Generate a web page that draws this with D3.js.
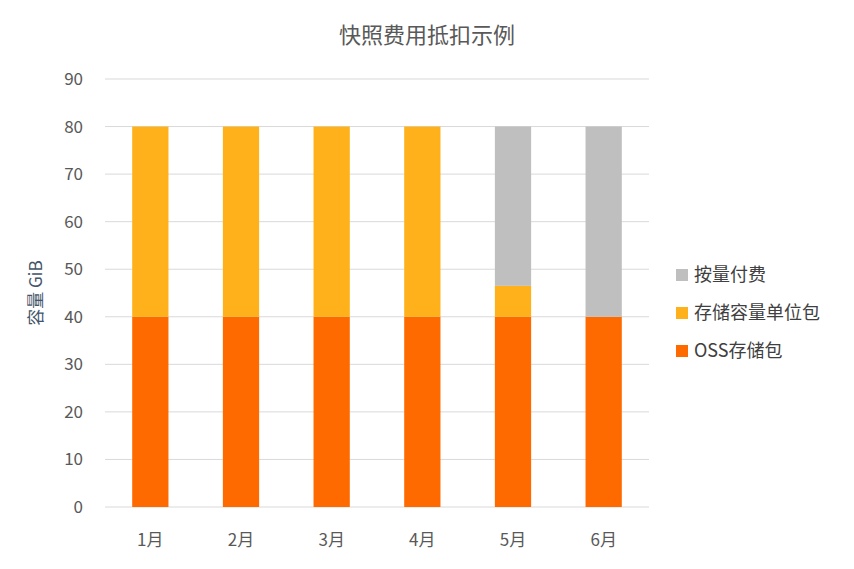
<!DOCTYPE html>
<html><head><meta charset="utf-8">
<script src="https://cdn.jsdelivr.net/npm/d3@7"></script>
<style>body{margin:0;background:#fff}text{font-family:"Noto Sans CJK SC","Noto Sans",sans-serif}</style>
</head><body><svg width="854" height="569"></svg>
<script>
// chart data
const months = ["1月", "2月", "3月", "4月", "5月", "6月"];
const ossPack = [40, 40, 40, 40, 40, 40];
const unitPack = [40, 40, 40, 40, 6.5, 0];
const payAsGo = [0, 0, 0, 0, 33.5, 40];
const seriesNames = ["OSS存储包", "存储容量单位包", "按量付费"];
const colors = ["#ff6a00", "#ffb11b", "#bfbfbf"];
const yTicks = [0, 10, 20, 30, 40, 50, 60, 70, 80, 90];

const svg = d3.select("svg");
const x = d3.scaleBand().domain(months).range([105, 649]).paddingInner(0.6).paddingOuter(0.3);
const y = d3.scaleLinear().domain([0, 90]).range([507, 79]);

// grid lines
svg.selectAll(".grid").data(yTicks).join("line")
    .attr("x1", 105).attr("x2", 649)
    .attr("y1", d => y(d)).attr("y2", d => y(d))
    .attr("stroke", "#d9d9d9");

const rows = months.map((m, i) => ({month: m, s0: ossPack[i], s1: unitPack[i], s2: payAsGo[i]}));
const stacked = d3.stack().keys(["s0", "s1", "s2"])(rows);

svg.selectAll(".layer").data(stacked).join("g")
    .attr("fill", (d, i) => colors[i])
    .selectAll("rect").data(d => d).join("rect")
    .attr("x", d => x(d.data.month))
    .attr("width", x.bandwidth())
    .attr("y", d => y(d[1]))
    .attr("height", d => y(d[0]) - y(d[1]));

// axes
const yAxis = svg.append("g").attr("transform", "translate(105,0)")
    .call(d3.axisLeft(y).tickValues(yTicks).tickSize(0).tickPadding(22));
yAxis.select(".domain").remove();
yAxis.selectAll("text").attr("font-size", 17).attr("fill", "#595959");

const xAxis = svg.append("g").attr("transform", "translate(0,507)")
    .call(d3.axisBottom(x).tickSize(0).tickPadding(27));
xAxis.select(".domain").remove();
xAxis.selectAll("text").attr("font-size", 17).attr("fill", "#595959");

svg.append("text").attr("x", 427).attr("y", 43).attr("text-anchor", "middle")
    .attr("font-size", 22).attr("fill", "#595959").text("快照费用抵扣示例");

svg.append("text").attr("transform", "translate(42,293) rotate(-90)")
    .attr("text-anchor", "middle").attr("font-size", 17).attr("fill", "#44546a")
    .text("容量 GiB");

// legend (reverse order)
const legend = svg.selectAll(".leg").data([2, 1, 0]).join("g")
    .attr("transform", (d, i) => `translate(676,${275 + i * 38})`);
legend.append("rect").attr("y", -6).attr("width", 12).attr("height", 12)
    .attr("fill", d => colors[d]);
legend.append("text").attr("x", 18).attr("dy", "0.35em")
    .attr("font-size", 18).attr("fill", "#404040").text(d => seriesNames[d]);
</script></body></html>
